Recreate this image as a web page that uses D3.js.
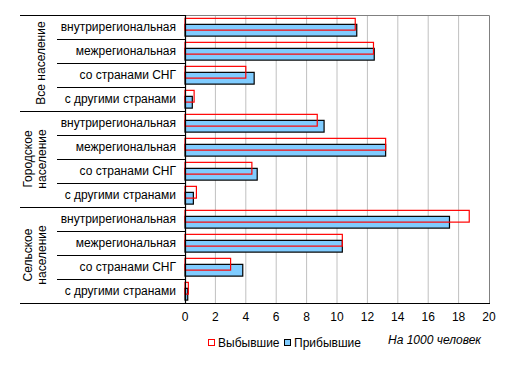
<!DOCTYPE html>
<html lang="ru">
<head>
  <meta charset="UTF-8">
  <title>Миграция</title>
  <script src="https://d3js.org/d3.v7.min.js"></script>
  <style>
    body { margin: 0; background: #fff; }
    text { font-family: "Liberation Sans", Arial, sans-serif; fill: #000; }
    .cat { font-size: 12px; text-anchor: end; }
    .grp { font-size: 12px; text-anchor: middle; }
    .tick-label { font-size: 12px; text-anchor: middle; }
    .legend { font-size: 12px; }
  </style>
</head>
<body>
  <div id="chart"></div>
  <script>
    const groups = [["Все население"], ["Городское", "население"], ["Сельское", "население"]];
    const categories = ["внутрирегиональная", "межрегиональная", "со странами СНГ", "с другими странами"];
    // values per group, in category order
    const departed = [
      [11.2, 12.4, 4.0, 0.6],
      [8.7, 13.2, 4.4, 0.75],
      [18.7, 10.35, 3.0, 0.22]
    ];
    const arrived = [
      [11.3, 12.45, 4.55, 0.48],
      [9.15, 13.2, 4.75, 0.55],
      [17.4, 10.35, 3.8, 0.18]
    ];
    const xTicks = [0, 2, 4, 6, 8, 10, 12, 14, 16, 18, 20];
    const seriesNames = ["Выбывшие", "Прибывшие"];
    const unitNote = "На 1000 человек";

    const W = 512, H = 373;
    const plot = { left: 185, right: 489, top: 15, bottom: 303 };
    const groupX = 20, catX = 57;

    const svg = d3.select("#chart").append("svg")
      .attr("width", W).attr("height", H);

    const rows = [];
    groups.forEach((g, gi) => categories.forEach((c, ci) => rows.push({
      key: gi + "-" + ci, gi, ci, cat: c,
      dep: departed[gi][ci], arr: arrived[gi][ci]
    })));

    const x = d3.scaleLinear().domain([0, 20]).range([plot.left, plot.right]);
    const y = d3.scaleBand().domain(rows.map(d => d.key))
      .range([plot.top, plot.bottom]).padding(0);
    const bw = y.bandwidth();

    // gridlines
    svg.append("g").selectAll("line")
      .data(xTicks.filter(t => t > 0 && t < 20))
      .enter().append("line")
      .attr("x1", d => x(d)).attr("x2", d => x(d))
      .attr("y1", plot.top).attr("y2", plot.bottom)
      .attr("stroke", "#c0c0c0").attr("stroke-width", 1);

    // plot border (top + right gray)
    svg.append("path")
      .attr("d", `M${plot.left},${plot.top + 0.5}H${plot.right + 0.5}V${plot.bottom}`)
      .attr("fill", "none").attr("stroke", "#808080").attr("stroke-width", 1);

    // bottom axis line
    svg.append("line")
      .attr("x1", plot.left).attr("x2", plot.right + 1)
      .attr("y1", plot.bottom + 0.5).attr("y2", plot.bottom + 0.5)
      .attr("stroke", "#000");

    // arrived bars (blue)
    svg.append("g").selectAll("rect")
      .data(rows).enter().append("rect")
      .attr("x", x(0))
      .attr("y", d => y(d.key) + bw * 0.39)
      .attr("width", d => x(d.arr) - x(0))
      .attr("height", bw * 0.49)
      .attr("fill", "#80ccff").attr("stroke", "#000").attr("stroke-width", 1.2);

    // departed bars (red outline)
    svg.append("g").selectAll("rect")
      .data(rows).enter().append("rect")
      .attr("x", x(0))
      .attr("y", d => y(d.key) + bw * 0.14)
      .attr("width", d => x(d.dep) - x(0))
      .attr("height", bw * 0.49)
      .attr("fill", "none").attr("stroke", "#ff0000").attr("stroke-width", 1.2);

    // left axis line
    svg.append("line")
      .attr("x1", plot.left + 0.5).attr("x2", plot.left + 0.5)
      .attr("y1", plot.top).attr("y2", plot.bottom + 1)
      .attr("stroke", "#000").attr("stroke-width", 1.2);

    // category separators
    svg.append("g").selectAll("line")
      .data(rows.filter(d => d.ci > 0)).enter().append("line")
      .attr("x1", catX).attr("x2", plot.left)
      .attr("y1", d => Math.round(y(d.key)) + 0.5).attr("y2", d => Math.round(y(d.key)) + 0.5)
      .attr("stroke", "#000");

    // group separators
    const gEdges = [0, 1, 2, 3].map(i => i < 3 ? y(i + "-0") : plot.bottom);
    svg.append("g").selectAll("line")
      .data(gEdges).enter().append("line")
      .attr("x1", groupX).attr("x2", plot.left)
      .attr("y1", d => Math.round(d) + 0.5).attr("y2", d => Math.round(d) + 0.5)
      .attr("stroke", "#000");

    // category labels
    svg.append("g").selectAll("text")
      .data(rows).enter().append("text")
      .attr("class", "cat")
      .attr("x", 176)
      .attr("y", d => y(d.key) + bw / 2 + 4)
      .text(d => d.cat);

    // group labels (rotated)
    groups.forEach((g, gi) => {
      const cy = (gEdges[gi] + gEdges[gi + 1]) / 2;
      const cx = g.length === 1 ? 41 : 35;
      const t = svg.append("text").attr("class", "grp")
        .attr("transform", `translate(${cx},${cy}) rotate(-90)`);
      g.forEach((line, li) => {
        t.append("tspan")
          .attr("x", 0)
          .attr("y", 4 + (li - (g.length - 1) / 2) * 14)
          .text(line);
      });
    });

    // x tick labels
    svg.append("g").selectAll("text")
      .data(xTicks).enter().append("text")
      .attr("class", "tick-label")
      .attr("x", d => x(d))
      .attr("y", 321)
      .text(d => d);

    // legend
    const lg = svg.append("g").attr("class", "legend");
    lg.append("rect").attr("x", 208.5).attr("y", 339.5).attr("width", 6).attr("height", 6)
      .attr("fill", "#fff").attr("stroke", "#ff0000");
    lg.append("text").attr("x", 218).attr("y", 347).text(seriesNames[0]);
    lg.append("rect").attr("x", 284.5).attr("y", 339.5).attr("width", 6).attr("height", 6)
      .attr("fill", "#80ccff").attr("stroke", "#000");
    lg.append("text").attr("x", 294).attr("y", 347).text(seriesNames[1]);

    svg.append("text")
      .attr("x", 388).attr("y", 344)
      .attr("font-size", 12).attr("font-style", "italic")
      .text(unitNote);
  </script>
</body>
</html>
